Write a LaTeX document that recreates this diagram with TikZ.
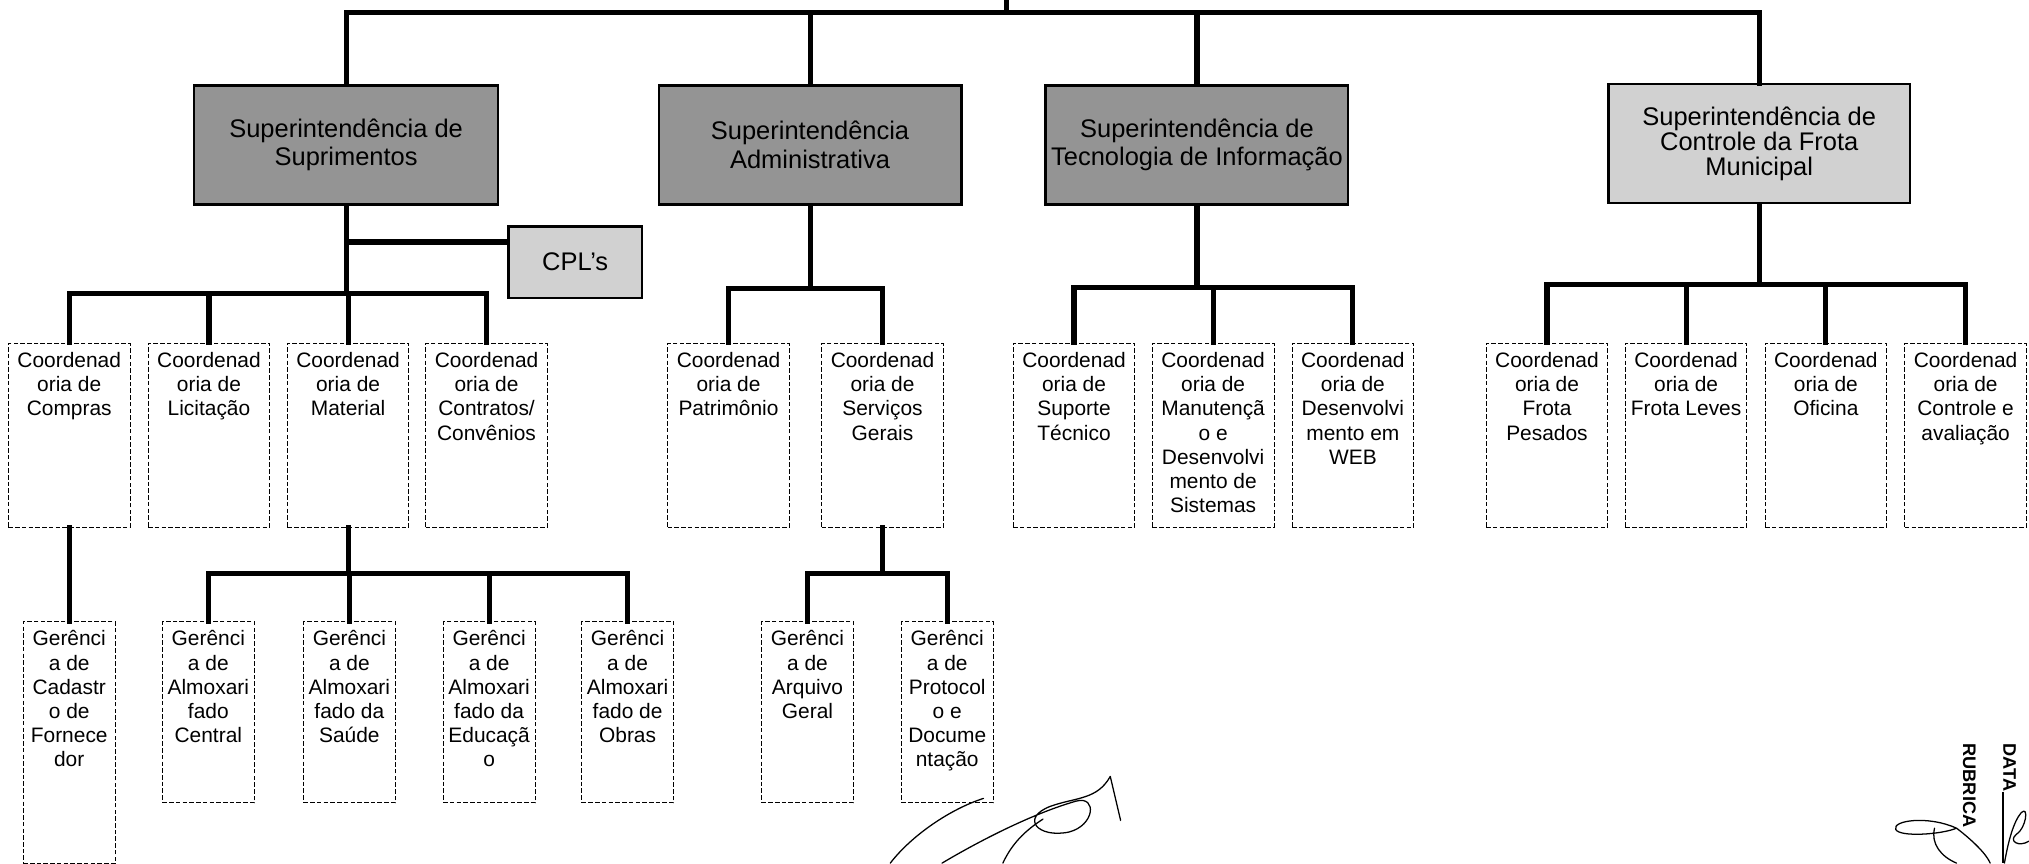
\documentclass[tikz,border=0pt]{standalone}
\usepackage{fontspec}
\setmainfont{Liberation Sans}
\newcommand{\boxtxt}[3]{\parbox[c][#2][t]{#1}{\centering #3}}
\newcommand{\cb}[1]{\boxtxt{23.5mm}{32mm}{#1}}
\newcommand{\gb}[1]{\boxtxt{17.75mm}{31.5mm}{#1}}

\begin{document}
\begin{tikzpicture}[x=.25mm,y=-.25mm,
  conn/.style={line width=2.8pt,line cap=rect,line join=miter},
  sup/.style={draw,line width=1.2pt,fill=black!42,inner sep=0pt,minimum height=23mm,align=center,font=\fontsize{14}{15.6}\selectfont},
  suplight/.style={sup,fill=black!18},
  cbox/.style={draw,line width=.5pt,dash pattern=on 2.5pt off 1.2pt,inner xsep=0pt,inner ysep=1.75mm,anchor=north,font=\fontsize{11.5}{13.3}\selectfont},
  sign/.style={line width=.7pt,line cap=round,line join=round},
  stamp/.style={rotate=-90,inner sep=0pt,font=\bfseries\fontsize{10}{12}\selectfont}]
\path[use as bounding box] (0,0) rectangle (1568,667);
\coordinate (root) at (778,0);
\node[sup,minimum width=58.75mm] (supS) at (267.5,112) {Superintendência de\\Suprimentos};
\node[sup,minimum width=58.5mm] (supA) at (626,112) {Superintendência\\Administrativa};
\node[sup,minimum width=58.5mm] (supT) at (925,112) {Superintendência de\\Tecnologia de Informação};
\node[suplight,minimum width=58.25mm,font=\fontsize{14}{13.8}\selectfont] (supF) at (1359.5,111) {Superintendência de\\Controle da Frota\\Municipal};
\node[suplight,minimum width=25.75mm,minimum height=13.75mm] (cpl) at (444.5,202.5) {CPL's};
\node[cbox] (cComp) at (53.5,265) {\cb{Coordenad\\oria de\\Compras}};
\node[cbox] (cLic) at (161.5,265) {\cb{Coordenad\\oria de\\Licitação}};
\node[cbox] (cMat) at (269,265) {\cb{Coordenad\\oria de\\Material}};
\node[cbox] (cCont) at (376,265) {\cb{Coordenad\\oria de\\Contratos/\\Convênios}};
\node[cbox] (cPat) at (563,265) {\cb{Coordenad\\oria de\\Patrimônio}};
\node[cbox] (cServ) at (682,265) {\cb{Coordenad\\oria de\\Serviços\\Gerais}};
\node[cbox] (cSup) at (830,265) {\cb{Coordenad\\oria de\\Suporte\\Técnico}};
\node[cbox] (cMan) at (937.5,265) {\cb{Coordenad\\oria de\\Manutençã\\o e\\Desenvolvi\\mento de\\Sistemas}};
\node[cbox] (cWeb) at (1045.5,265) {\cb{Coordenad\\oria de\\Desenvolvi\\mento em\\WEB}};
\node[cbox] (cPes) at (1195.5,265) {\cb{Coordenad\\oria de\\Frota\\Pesados}};
\node[cbox] (cLev) at (1303,265) {\cb{Coordenad\\oria de\\Frota Leves}};
\node[cbox] (cOfi) at (1411,265) {\cb{Coordenad\\oria de\\Oficina}};
\node[cbox] (cCtl) at (1519,265) {\cb{Coordenad\\oria de\\Controle e\\avaliação}};
\node[cbox] (gCad) at (53.5,480) {\boxtxt{17.75mm}{43.25mm}{Gerênci\\a de\\Cadastr\\o de\\Fornece\\dor}};
\node[cbox] (gCen) at (161,480) {\gb{Gerênci\\a de\\Almoxari\\fado\\Central}};
\node[cbox] (gSau) at (270,480) {\gb{Gerênci\\a de\\Almoxari\\fado da\\Saúde}};
\node[cbox] (gEdu) at (378,480) {\gb{Gerênci\\a de\\Almoxari\\fado da\\Educaçã\\o}};
\node[cbox] (gObr) at (485,480) {\gb{Gerênci\\a de\\Almoxari\\fado de\\Obras}};
\node[cbox] (gArq) at (624,480) {\gb{Gerênci\\a de\\Arquivo\\Geral}};
\node[cbox] (gPro) at (732,480) {\gb{Gerênci\\a de\\Protocol\\o e\\Docume\\ntação}};
\draw[conn] (root) -- (root |- 0,9.5);
\foreach \n in {supS,supA,supT,supF} \draw[conn] (root |- 0,9.5) -| (\n.north);
\draw[conn] (supS.south) -- (supS.south |- 0,227);
\draw[conn] (supS.south |- 0,187) -- (cpl.west |- 0,187);
\foreach \n in {cComp,cLic,cMat,cCont} \draw[conn] (supS.south |- 0,227) -| (\n.north);
\draw[conn] (supA.south) -- (supA.south |- 0,223);
\foreach \n in {cPat,cServ} \draw[conn] (supA.south |- 0,223) -| (\n.north);
\draw[conn] (supT.south) -- (supT.south |- 0,222);
\foreach \n in {cSup,cMan,cWeb} \draw[conn] (supT.south |- 0,222) -| (\n.north);
\draw[conn] (supF.south) -- (supF.south |- 0,220);
\foreach \n in {cPes,cLev,cOfi,cCtl} \draw[conn] (supF.south |- 0,220) -| (\n.north);
\draw[conn] (cComp.south) -- (gCad.north);
\draw[conn] (cMat.south) -- (cMat.south |- 0,443);
\foreach \n in {gCen,gSau,gEdu,gObr} \draw[conn] (cMat.south |- 0,443) -| (\n.north);
\draw[conn] (cServ.south) -- (cServ.south |- 0,443);
\foreach \n in {gArq,gPro} \draw[conn] (cServ.south |- 0,443) -| (\n.north);
\draw[sign] (688,667) .. controls (705,645) and (735,625) .. (760,617);
\draw[sign] (728,667) .. controls (760,648) and (800,628) .. (832,619) .. controls (848,615) and (846,638) .. (826,643) .. controls (802,648) and (788,632) .. (812,623) .. controls (832,616) and (848,618) .. (858,600) -- (866,634);
\draw[sign] (775,667) .. controls (782,652) and (792,642) .. (806,633);
\node[stamp] (dataL) at (1553,593) {DATA};
\node[stamp] (rubL) at (1522,607) {RUBRICA};
\draw[line width=.6pt] (dataL.south east) -- (dataL.south east |- 0,667);
\draw[sign] (1549,667) .. controls (1552,650) and (1556,635) .. (1562,628) .. controls (1568,622) and (1566,640) .. (1558,645) .. controls (1552,650) and (1560,655) .. (1568,650);
\draw[sign] (1512,640) .. controls (1490,630) and (1462,634) .. (1465,641) .. controls (1468,647) and (1500,645) .. (1512,640) .. controls (1525,650) and (1535,660) .. (1538,667);
\draw[sign] (1495,640) .. controls (1492,652) and (1500,662) .. (1512,667);
\end{tikzpicture}
\end{document}
